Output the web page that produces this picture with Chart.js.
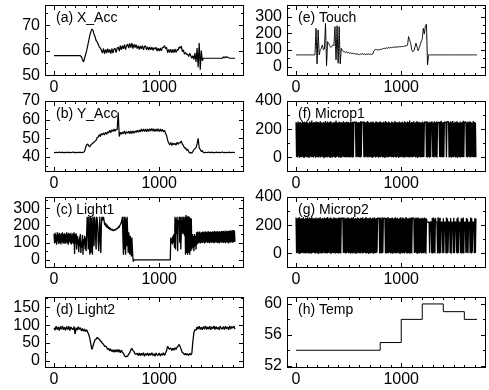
<!DOCTYPE html>
<html><head><meta charset="utf-8">
<script src="https://cdn.jsdelivr.net/npm/chart.js@4.4.1/dist/chart.umd.min.js"></script>
<style>
html,body{margin:0;padding:0;background:#fff;width:489px;height:390px;overflow:hidden;position:relative;}
canvas{position:absolute;}
</style></head><body>
<script>
// ---------- data ----------
// sample spacing (time index units) of each stored series
const stepCoarse = 10;   // xAcc, yAcc, light2, touch
const stepFine = 5;      // light1, microp1, microp2

const xAcc = [
58,58,58,58,58,58,58,58,58,58,
58,58,58,58,58,58,58,58,58,58,
58,58,58,58,58,58,57.6,56.5,55.5,57,
58.5,60,62,64,66,67.5,68.5,68,66.5,65.5,
64,63.5,62.5,61.5,61,60.2,59,60.8,58.8,60.5,
59,60.8,59.2,60.5,58.8,60.8,59,60.6,60.9,59.2,
61,61.3,59.8,62,60.3,62,60.7,62.4,60.4,62,
62.6,61,62.9,61.2,63,60.8,62.5,61.2,62.4,60.8,
62,60.4,61.9,60.7,62,60.3,61.6,61.9,60.3,61.5,
60.2,61.5,60.3,61.4,60.1,61.2,60.6,61.3,59.8,61,
59.8,61,59.9,61.2,61.3,62,60.8,61.3,59.2,60.5,
59.2,60.6,59.1,60.5,59.2,60.6,59.3,60.4,60.2,61.5,
61,61.8,59.6,60.3,58.6,59.2,58.5,58.6,57.7,58.9,
58,57,58,56.5,59,55.5,61,53.5,63,52.5,
60,56,57,57,57,57,57,57,57,57,
57,57,57,57,57,57,57,57,57,57,
57,57.5,57.2,57.6,57.3,57.5,57.2,57,57,57,
57,57,57];

const yAcc = [
42.5,42.3,42.6,42.4,42.5,42.7,42.3,42.5,42.6,42.4,
42.5,42.3,42.6,42.5,42.4,42.6,42.3,42.5,42.7,42.4,
42.5,42.3,42.6,42.4,42.5,42.6,42.3,42.5,42.5,43,
45,46.5,47,46,45.5,46.5,47,47.5,48,48.5,
49,50.5,50.6,52,51,52.6,51.8,52.8,51.9,53.2,
52.2,53.6,52.8,54.3,53.2,54.5,53.7,55,53.8,54.8,
54.6,64,51,53.2,52.2,53.4,52.4,54,52.3,53.5,
52.8,53.8,52.4,54,52.6,54,52.8,54,53.2,54.3,
53.3,54.5,53.4,55,53.6,55,53.6,55.1,53.5,55,
53.7,55.1,53.9,55.3,53.8,55.1,53.6,55,53.8,55.2,
53.6,55,53.7,54.9,53.5,54.3,52.8,51.5,49,47.5,
46.5,47.8,46.2,47.5,46.6,47.3,46.4,47.9,46.8,47.8,
47.6,48.6,46.8,46.2,44.8,45,43.6,44.2,42.8,42.2,
42.5,42,43,44,44.5,45,47,50,45,44,
43,43.5,42.5,42.3,42.6,42.4,42.5,42.7,42.3,42.5,
42.6,42.4,42.5,42.3,42.6,42.5,42.4,42.6,42.3,42.5,
42.7,42.4,42.5,42.3,42.6,42.4,42.5,42.6,42.3,42.5,
42.5,42.4,42.6];

const light1 = [
150,95,158,100,145,88,160,105,152,92,157,98,148,90,155,102,160,94,150,100,
155,92,148,100,160,96,152,88,158,104,150,95,157,90,146,100,155,93,160,35,
150,95,155,60,140,90,120,45,135,80,150,40,110,70,145,30,120,85,140,60,
130,50,150,250,200,60,250,120,30,250,40,245,150,30,250,200,80,250,230,130,
60,250,240,200,100,50,150,250,120,40,200,250,240,230,250,230,210,200,215,195,
190,205,185,195,180,190,175,185,178,172,180,170,176,168,175,170,178,172,182,178,
185,180,190,195,188,200,205,210,220,230,250,120,30,250,60,250,30,240,80,250,
150,40,160,120,30,140,100,20,130,60,10,-10,0,0,0,0,0,0,0,0,
0,0,0,0,0,0,0,0,0,0,0,0,0,0,0,0,0,0,0,0,
0,0,0,0,0,0,0,0,0,0,0,0,0,0,0,0,0,0,0,0,
0,0,0,0,0,0,0,0,0,0,0,0,0,0,0,0,0,0,0,0,
0,0,130,100,125,90,140,100,150,70,250,60,240,150,250,50,230,200,250,100,
250,60,160,250,180,150,250,200,140,250,30,260,40,250,30,255,40,250,30,245,
50,240,60,150,70,140,50,150,80,140,60,160,90,165,95,160,100,165,95,158,
100,162,98,165,102,160,96,166,100,163,104,160,98,167,101,162,97,165,103,161,
99,166,102,163,97,168,100,162,104,165,98,167,101,163,96,166,103,164,99,168,
102,165,98,169,101,164,97,170,103,166,100,168,96,171,102,167,99,170,104,172,
100,174,102,170,105];

const light2 = [
93,86,97,88,95,85,96,89,98,87,
94,86,96,88,97,85,95,90,88,96,
75,93,86,96,88,93,84,91,83,89,
82,87,80,74,63,47,32,41,51,59,
61,66,62,61,56,54,49,47,41,41,
38,32,35,28,33,26,31,24,31,25,
32,25,31,23,30,24,21,15,11,13,
13,19,23,31,35,29,26,19,19,21,
15,22,14,21,16,23,13,20,16,22,
14,21,16,23,15,20,13,22,17,15,
22,14,20,16,23,15,21,29,41,35,
33,36,29,35,30,37,32,39,41,46,
39,31,23,22,17,21,16,20,15,21,
17,21,55,80,88,86,95,89,97,88,
94,87,96,90,98,88,95,89,97,87,
95,90,98,88,96,89,94,87,97,91,
89,96,88,97,90,95,87,98,89,96,
92,97,89];

const touch = [
70,70,70,70,70,70,70,70,70,70,
70,70,70,70,70,70,70,70,70,230,
15,220,70,100,110,130,100,105,260,5,
150,140,125,115,120,130,125,240,40,245,
20,240,15,110,95,90,88,85,88,82,
85,80,82,78,80,76,80,72,78,74,
70,76,72,78,74,76,72,75,74,76,
72,75,73,76,95,100,105,98,102,100,
104,102,106,108,110,108,112,110,114,112,
115,113,116,115,118,116,118,117,120,118,
120,121,120,122,124,125,128,180,160,140,
100,88,95,115,140,120,95,110,130,150,
165,230,195,245,255,10,70,70,70,70,
70,70,70,70,70,70,70,70,70,70,
70,70,70,70,70,70,70,70,70,70,
70,70,70,70,70,70,70,70,70,70,
70,70,70,70,70,70,70,70,70,70,
70,70,70];

const microp1 = [
250,3,246,0,255,6,248,-2,252,4,244,1,258,5,249,-4,253,2,247,7,
256,0,250,4,243,-3,254,6,248,1,262,3,245,0,251,8,247,-2,255,4,
249,2,253,-1,246,5,257,0,250,6,244,3,252,-5,248,1,259,4,246,0,
254,7,247,2,251,-3,256,4,249,0,243,5,253,1,248,-2,261,3,250,6,
246,0,255,4,248,-4,252,2,245,6,257,1,250,3,247,-1,254,5,249,0,
251,3,246,0,256,5,249,-2,253,4,250,251,249,250,2,255,6,247,1,252,
4,248,0,257,5,250,251,249,250,3,254,-1,247,6,252,2,258,0,249,5,
246,1,253,4,248,-3,255,2,250,6,244,0,257,3,249,5,252,-2,247,4,
256,1,250,7,245,0,253,3,248,-4,259,2,251,5,246,0,254,3,249,6,
243,1,255,4,250,-1,247,5,258,2,249,0,252,6,246,-3,255,3,250,1,
248,5,253,0,245,3,257,-2,251,6,247,1,254,4,249,0,261,2,246,5,
252,-1,249,3,256,6,244,0,251,4,258,-3,247,2,253,5,250,0,246,3,
255,1,248,4,252,250,251,249,2,256,0,247,5,253,-2,249,3,251,250,252,
3,246,0,257,6,250,2,254,-1,248,249,247,250,4,253,1,260,5,247,0,
252,3,249,251,248,250,2,255,253,254,252,0,247,5,256,-2,250,4,258,1,
246,6,253,0,249,3,257,-3,251,5,244,2,255,0,248,4,252,1,260,3,
251,249,252,250,4,247,0,254,6,249,2,256,-1,250,5,245,3,258,0,251,
4,247,2];

const microp2 = [
255,2,248,5,252,0,258,-3,246,4,251,1,249,6,256,0,244,3,253,-1,
250,5,257,2,247,0,254,4,249,-2,260,3,245,6,252,1,248,0,255,4,
246,1,253,-4,250,5,257,2,244,0,251,3,248,6,255,-1,249,4,252,0,
258,3,247,6,251,0,254,-2,249,5,245,1,256,3,250,0,253,4,246,2,
251,-1,257,4,249,0,252,250,251,249,3,255,5,247,0,253,2,248,6,256,
1,250,4,246,-2,254,3,249,0,258,5,245,2,252,-3,248,6,255,1,250,
4,247,0,253,6,249,-1,256,3,244,5,251,2,258,0,248,4,252,-3,250,
3,255,0,246,5,253,1,249,-2,257,4,247,2,252,6,250,251,249,250,0,
254,3,248,0,256,5,245,249,250,248,2,253,-1,250,4,258,1,247,6,252,
0,249,3,255,-2,246,5,251,1,257,4,248,0,253,6,245,2,250,-3,256,
5,248,1,254,3,250,-1,247,6,259,2,251,0,246,4,253,-2,249,3,255,
0,250,252,249,251,3,247,6,254,1,249,-3,256,4,245,2,252,5,248,0,
253,4,247,1,255,6,250,-2,248,222,223,221,222,220,3,222,224,221,2,251,
0,254,5,246,2,252,222,223,221,-1,257,4,249,0,253,3,222,221,223,1,
250,4,222,221,223,2,255,0,247,5,222,224,221,3,252,-2,222,221,222,4,
253,1,222,223,221,5,248,0,256,3,222,221,223,2,250,-1,247,4,254,0,
222,221,223,3,251,6,246,1,222,221,222,4,255,0,249,5,222,223,221,2,
250,3,248];

const tempTimes = [0, 800, 1000, 1200, 1400, 1600, 1720];
const tempValues = [54, 55, 58, 60, 59, 58, 58];

// tick labels / tick values
const xTickLabels = [0, 1000];
const xMinorTicks = [100,200,300,400,500,600,700,800,900,1100,1200,1300,1400,1500,1600,1700,1800];

// ---------- helpers ----------
function series(values, step){ return values.map((v,i)=>({x:i*step, y:v})); }
function pairs(xs, ys){ return xs.map((x,i)=>({x:x, y:ys[i]})); }

const FONT = "'Liberation Sans', Arial, Helvetica, sans-serif";

const panels = [
 {title:'(a) X_Acc',  data:series(xAcc,stepCoarse),   lw:1.2, yMin:50,   yMax:78,  yMajor:[50,60,70],       yMinor:[55,65,75],          col:0,row:0},
 {title:'(b) Y_Acc',  data:series(yAcc,stepCoarse),   lw:1.2, yMin:32,   yMax:70,  yMajor:[40,50,60,70],    yMinor:[35,45,55,65],       col:0,row:1},
 {title:'(c) Light1', data:series(light1,stepFine),   lw:1.3, yMin:-47,  yMax:365, yMajor:[0,100,200,300],  yMinor:[50,150,250,350],    col:0,row:2},
 {title:'(d) Light2', data:series(light2,stepCoarse), lw:1.3, yMin:-20,  yMax:179, yMajor:[0,50,100,150],   yMinor:[25,75,125,175],     col:0,row:3},
 {title:'(e) Touch',  data:series(touch,stepCoarse),  lw:1,   yMin:-57,  yMax:370, yMajor:[0,100,200,300],  yMinor:[-50,50,150,250,350],col:1,row:0},
 {title:'(f) Microp1',data:series(microp1,stepFine),  lw:1.3, yMin:-103, yMax:400, yMajor:[0,200,400],      yMinor:[-100,100,300],      col:1,row:1},
 {title:'(g) Microp2',data:series(microp2,stepFine),  lw:1.3, yMin:-103, yMax:400, yMajor:[0,200,400],      yMinor:[-100,100,300],      col:1,row:2},
 {title:'(h) Temp',   data:pairs(tempTimes,tempValues), lw:1, stepped:true, yMin:51.7, yMax:60.9, yMajor:[52,56,60], yMinor:[54,58], col:1,row:3}
];

// layout of the plot boxes (pixels)
const colLeft = [45, 287];
const rowTop = [5, 101, 197, 297];
const boxW = 199, boxH = 71;
const yAxisW = 45, xAxisH = 22, padTop = 10, padRight = 3;

const framePlugin = {
  id:'frame',
  afterDatasetsDraw(chart){
    const o = chart.options.plugins.frame;
    const {ctx, chartArea:a} = chart;
    const xs = chart.scales.x, ys = chart.scales.y;
    ctx.save();
    ctx.strokeStyle = '#000';
    ctx.lineWidth = 1;
    ctx.strokeRect(a.left+0.5, a.top+0.5, a.right-a.left-1, a.bottom-a.top-1);
    ctx.beginPath();
    const vx = (v,len)=>{
      const p = Math.round(xs.getPixelForValue(v))+0.5;
      if (p < a.left || p > a.right) return;
      ctx.moveTo(p, a.bottom); ctx.lineTo(p, a.bottom-len);
      ctx.moveTo(p, a.top); ctx.lineTo(p, a.top+len);
    };
    const vy = (v,len)=>{
      const p = Math.round(ys.getPixelForValue(v))+0.5;
      if (p < a.top || p > a.bottom) return;
      ctx.moveTo(a.left, p); ctx.lineTo(a.left+len, p);
      ctx.moveTo(a.right, p); ctx.lineTo(a.right-len, p);
    };
    xTickLabels.forEach(v=>vx(v,5));
    xMinorTicks.forEach(v=>vx(v,3));
    o.yMajor.forEach(v=>vy(v,5));
    o.yMinor.forEach(v=>vy(v,3));
    ctx.stroke();
    ctx.fillStyle = '#000';
    ctx.font = '14px ' + FONT;
    ctx.textBaseline = 'alphabetic';
    ctx.textAlign = 'left';
    ctx.fillText(o.title, a.left+11, a.top+17);
    ctx.restore();
  }
};

panels.forEach(p=>{
  const cv = document.createElement('canvas');
  const w = yAxisW + boxW + padRight;
  const h = padTop + boxH + xAxisH;
  cv.width = w; cv.height = h;
  cv.style.width = w+'px'; cv.style.height = h+'px';
  cv.style.left = (colLeft[p.col]-yAxisW)+'px';
  cv.style.top = (rowTop[p.row]-padTop)+'px';
  document.body.appendChild(cv);
  new Chart(cv, {
    type:'line',
    data:{datasets:[{data:p.data, borderColor:'#000', borderWidth:p.lw, pointRadius:0, fill:false,
      // a tiny tension keeps Chart.js off its per-pixel "fast path", so dense traces render solid
      tension:p.stepped ? 0 : 1e-6, stepped:p.stepped||false, borderJoinStyle:'bevel'}]},
    options:{
      responsive:false, animation:false, events:[],
      layout:{padding:{left:0,right:padRight,top:padTop,bottom:0}},
      plugins:{legend:{display:false}, tooltip:{enabled:false},
        frame:{title:p.title, yMajor:p.yMajor, yMinor:p.yMinor}},
      scales:{
        x:{type:'linear', min:-86, max:1806,
           grid:{display:false, drawTicks:false}, border:{display:false},
           ticks:{font:{family:FONT,size:16}, color:'#000', padding:2, autoSkip:false, maxRotation:0, callback:v=>String(v)},
           afterBuildTicks:s=>{ s.ticks = xTickLabels.map(v=>({value:v})); },
           afterFit:s=>{ s.height = xAxisH; s.paddingLeft = 0; s.paddingRight = 0; }},
        y:{type:'linear', min:p.yMin, max:p.yMax,
           grid:{display:false, drawTicks:false}, border:{display:false},
           ticks:{font:{family:FONT,size:16}, color:'#000', padding:5, autoSkip:false, callback:v=>String(v)},
           afterBuildTicks:s=>{ s.ticks = p.yMajor.map(v=>({value:v})); },
           afterFit:s=>{ s.width = yAxisW; s.paddingTop = 0; s.paddingBottom = 0; }}
      }
    },
    plugins:[framePlugin]
  });
});
</script>
</body></html>
